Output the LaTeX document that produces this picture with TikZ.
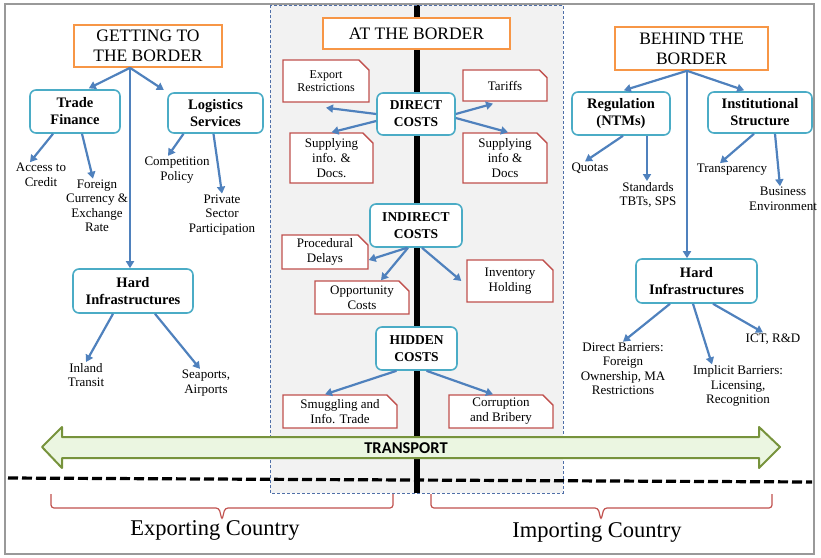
\documentclass[tikz,border=0pt]{standalone}
\usepackage{fontspec}
\setmainfont{Liberation Serif}
\newfontfamily\transfont{Carlito}
\usetikzlibrary{arrows.meta,shapes.misc}

\definecolor{hdrorange}{HTML}{F79646}
\definecolor{catcyan}{HTML}{4BACC6}
\definecolor{itemred}{HTML}{C0504D}
\definecolor{arrowblue}{HTML}{4F81BD}
\definecolor{transgreen}{HTML}{77933C}
\definecolor{transfill}{HTML}{EBF6E1}
\definecolor{zonegray}{HTML}{F2F2F2}
\definecolor{zoneblue}{HTML}{4F6FA8}

\newcommand\hdrfont{\fontsize{17.5}{20}\selectfont}
\newcommand\catfont{\bfseries\fontsize{14.5}{17}\selectfont}
\newcommand\costfont{\bfseries\fontsize{13.5}{17}\selectfont}
\newcommand\itemfont{\fontsize{13}{15}\selectfont}
\newcommand\leaffont{\fontsize{13}{14.5}\selectfont}

\begin{document}
\begin{tikzpicture}[x=1pt,y=-1pt,
  hdrbox/.style={draw=hdrorange,line width=1.6pt,fill=white,align=center,inner sep=0pt,font=\hdrfont},
  catbox/.style={draw=catcyan,line width=1.6pt,fill=white,rounded corners=6pt,align=center,inner sep=0pt,font=\catfont},
  costbox/.style={catbox,font=\costfont},
  itembox/.style={chamfered rectangle,chamfered rectangle corners=north east,chamfered rectangle xsep=7pt,
    draw=itemred,line width=1.4pt,fill=white,align=center,inner sep=0pt,font=\itemfont},
  leaf/.style={align=center,inner sep=1pt,font=\leaffont},
  conn/.style={draw=arrowblue,line width=2.2pt,-{Triangle[length=7pt,width=8pt]}}]

\useasboundingbox (0,0) rectangle (821,557);

% Frame
\draw[gray!80,line width=2pt] (5,4) rectangle (814,554);

% Border zone
\fill[zonegray] (270,5) rectangle (563,493);
\draw[black,line width=6pt] (417,5) -- (417,493);
\draw[zoneblue,line width=1pt,dash pattern=on 3pt off 2pt] (270,5) rectangle (563,493);

% Country line
\draw[black,line width=3.2pt,dash pattern=on 10pt off 4pt] (8,478) -- (812,482);

% Transport
\draw[transgreen,fill=transfill,line width=2pt,line join=round]
  (42,447) -- (62,427) -- (62,437) -- (759,437) -- (759,427) -- (780,447)
  -- (759,468) -- (759,458) -- (62,458) -- (62,468) -- cycle;
\node[font=\transfont\bfseries\fontsize{16.5}{20}\selectfont] (transport) at (406,448) {TRANSPORT};

% Braces
\draw[itemred,line width=1.2pt,rounded corners=3pt]
  (51,494) -- (51,508) -- (219,508) -- (222,520) -- (225,508) -- (393,508) -- (393,494);
\draw[itemred,line width=1.2pt,rounded corners=3pt]
  (431,494) -- (431,508) -- (598,508) -- (601,520) -- (604,508) -- (772,508) -- (772,494);
\node[font=\fontsize{22.5}{26}\selectfont] (exporting) at (215,530) {Exporting Country};
\node[font=\fontsize{22.5}{26}\selectfont] (importing) at (597,532) {Importing Country};

% Getting to the border
\node[hdrbox,minimum width=148pt,minimum height=42pt] (get) at (148,46) {GETTING TO\\THE BORDER};
\node[catbox,minimum width=90pt,minimum height=43pt] (tradefin) at (75,111.5) {Trade\\Finance};
\node[catbox,minimum width=95pt,minimum height=40pt] (logis) at (215.5,113) {Logistics\\Services};
\node[catbox,minimum width=120pt,minimum height=44pt] (hardL) at (133,291) {Hard\\Infrastructures};
\node[leaf] (access) at (41,175) {Access to\\Credit};
\node[leaf] (forex) at (97,206) {Foreign\\Currency \&\\Exchange\\Rate};
\node[leaf] (compet) at (177,170) {Competition\\Policy};
\node[leaf] (private) at (222,215) {Private\\Sector\\Participation};
\node[leaf] (inland) at (86,375) {Inland\\Transit};
\node[leaf] (seaports) at (206,383) {Seaports,\\Airports};

\draw[conn,shorten >=2pt] ([xshift=-18pt]get.south) -- ([xshift=12pt]tradefin.north);
\draw[conn,shorten >=4pt] ([xshift=-18pt]get.south) -- (logis.north west);
\draw[conn] ([xshift=-18pt]get.south) -- ([xshift=-3pt]hardL.north);
\draw[conn] ([xshift=-22pt]tradefin.south) -- ([xshift=-11pt]access.north);
\draw[conn] ([xshift=7pt]tradefin.south) -- ([xshift=-4pt]forex.north);
\draw[conn] ([xshift=-32pt]logis.south) -- ([xshift=-9pt]compet.north);
\draw[conn] ([xshift=-2pt]logis.south) -- (private.north);
\draw[conn] ([xshift=-20pt]hardL.south) -- (inland.north);
\draw[conn] ([xshift=22pt]hardL.south) -- ([xshift=-6pt]seaports.north);

% At the border
\node[hdrbox,minimum width=187pt,minimum height=31pt] (atb) at (416.5,33.5) {AT THE BORDER};
\node[costbox,minimum width=78pt,minimum height=42pt] (direct) at (416,114) {DIRECT\\COSTS};
\node[itembox,minimum width=86pt,minimum height=42pt,font=\fontsize{12}{13}\selectfont] (exportR) at (326,81) {Export\\Restrictions};
\node[itembox,minimum width=84pt,minimum height=31pt] (tariffs) at (505,85.5) {Tariffs};
\node[itembox,minimum width=83pt,minimum height=50pt] (supL) at (331.5,158) {Supplying\\info. \&\\Docs.};
\node[itembox,minimum width=84pt,minimum height=50pt] (supR) at (505,158) {Supplying\\info \&\\Docs};

\draw[conn] (direct.west) -- ([yshift=-5pt]exportR.south);
\draw[conn] ([yshift=-7pt]direct.west) -- (supL.north);
\draw[conn] (direct.east) -- ([xshift=-12pt,yshift=-2pt]tariffs.south);
\draw[conn] ([yshift=-4pt]direct.east) -- ([xshift=3pt]supR.north);

\node[costbox,minimum width=92pt,minimum height=43pt] (indirect) at (416,225.5) {INDIRECT\\COSTS};
\node[itembox,minimum width=86pt,minimum height=34pt] (proc) at (325,252) {Procedural\\Delays};
\node[itembox,minimum width=94pt,minimum height=33pt] (opp) at (362,297.5) {Opportunity\\Costs};
\node[itembox,minimum width=86pt,minimum height=42pt] (invent) at (510,281) {Inventory\\Holding};

\draw[conn] ([xshift=-9pt]indirect.south) -- ([yshift=-8pt]proc.east);
\draw[conn] ([xshift=-8pt]indirect.south) -- ([xshift=19pt]opp.north);
\draw[conn] ([xshift=6pt]indirect.south) -- ([xshift=-5pt]invent.west);

\node[costbox,minimum width=81pt,minimum height=43pt] (hidden) at (416.5,348.5) {HIDDEN\\COSTS};
\node[itembox,minimum width=114pt,minimum height=33pt] (smug) at (340,411.5) {Smuggling and\\Info. Trade};
\node[itembox,minimum width=104pt,minimum height=33pt] (corrupt) at (501,411.5) {Corruption\\and Bribery};

\draw[conn] ([xshift=-20pt]hidden.south) -- ([xshift=-15pt]smug.north);
\draw[conn] ([xshift=10pt]hidden.south) -- ([xshift=-8pt]corrupt.north);

% Behind the border
\node[hdrbox,minimum width=153pt,minimum height=43pt] (behind) at (691.5,48.5) {BEHIND THE\\BORDER};
\node[catbox,minimum width=98pt,minimum height=43pt] (reg) at (621,113.5) {Regulation\\(NTMs)};
\node[catbox,minimum width=104pt,minimum height=41pt] (inst) at (760,112.5) {Institutional\\Structure};
\node[catbox,minimum width=121pt,minimum height=44pt] (hardR) at (696.5,281) {Hard\\Infrastructures};
\node[leaf] (quotas) at (590,168) {Quotas};
\node[leaf] (standards) at (648,195) {Standards\\TBTs, SPS};
\node[leaf] (transp) at (732,170) {Transparency};
\node[leaf] (business) at (783,199) {Business\\Environment};
\node[leaf] (dbar) at (623,369) {Direct Barriers:\\Foreign\\Ownership, MA\\Restrictions};
\node[leaf] (ibar) at (738,386) {Implicit Barriers:\\Licensing,\\Recognition};
\node[leaf] (ict) at (773,339) {ICT, R\&D};

\draw[conn,shorten >=3pt] ([xshift=-4.5pt]behind.south) -- (reg.north);
\draw[conn,shorten >=3pt] ([xshift=-4.5pt]behind.south) -- ([xshift=-13pt]inst.north);
\draw[conn] ([xshift=-4.5pt]behind.south) -- ([xshift=-9.5pt]hardR.north);
\draw[conn] ([xshift=2pt]reg.south) -- ([xshift=-5pt]quotas.north);
\draw[conn] ([xshift=26pt]reg.south) -- ([xshift=-1pt]standards.north);
\draw[conn] ([xshift=-6pt]inst.south) -- ([xshift=-12pt]transp.north);
\draw[conn] ([xshift=15pt]inst.south) -- ([xshift=-3pt]business.north);
\draw[conn] ([xshift=-26.5pt]hardR.south) -- (dbar.north);
\draw[conn] ([xshift=-3.5pt]hardR.south) -- ([xshift=-26pt]ibar.north);
\draw[conn] ([xshift=16.5pt]hardR.south) -- ([xshift=-10pt]ict.north);

\end{tikzpicture}
\end{document}
